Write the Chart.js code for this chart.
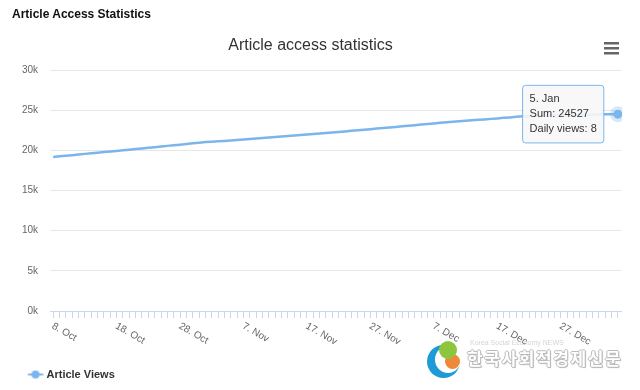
<!DOCTYPE html>
<html>
<head>
<meta charset="utf-8">
<title>Article Access Statistics</title>
<script src="https://cdn.jsdelivr.net/npm/chart.js@4.4.1/dist/chart.umd.min.js"></script>
<style>
    body { margin: 0; background: #fff; font-family: "Liberation Sans", Arial, sans-serif; }
    #wrap { position: relative; width: 640px; height: 390px; }
    #pageTitle { position: absolute; left: 12px; top: 7px; font-size: 12px; font-weight: bold; color: #111; }
    .wm { position: absolute; }
    .lg-b { left: 427px; top: 345px; width: 33px; height: 33px; border-radius: 50%; background: #1e9ad6; }
    .lg-w { left: 435px; top: 346px; width: 26px; height: 27px; border-radius: 50%; background: #fff; }
    .lg-o { left: 445px; top: 354px; width: 15px; height: 15px; border-radius: 50%; background: #f0883a; }
    .lg-g { left: 439px; top: 341px; width: 18px; height: 18px; border-radius: 50%; background: #8cc63f; }
    .wm-sub { left: 470px; top: 339px; font-size: 7px; color: rgba(170,170,170,0.5); }
    .wm-t { left: 467px; top: 345px; font-family: "Noto Sans CJK KR", sans-serif; font-weight: bold; font-size: 17px;
            color: #fff; letter-spacing: 1.6px;
            text-shadow: 1px 0 0 #bbb, -1px 0 0 #bbb, 0 1px 0 #bbb, 0 -1px 0 #bbb, 1px 1px 1px #aaa; }
</style>
</head>
<body>
<div id="wrap">
    <canvas id="accessChart"></canvas>
    <div id="pageTitle">Article Access Statistics</div>
    <div class="wm lg-b"></div>
    <div class="wm lg-w"></div>
    <div class="wm lg-o"></div>
    <div class="wm lg-g"></div>
    <div class="wm wm-sub">Korea Social Economy NEWS</div>
    <div class="wm wm-t">한국사회적경제신문</div>
</div>
<script>
const dates = [
    '8. Oct', '9. Oct', '10. Oct', '11. Oct', '12. Oct', '13. Oct', '14. Oct', '15. Oct', '16. Oct', '17. Oct',
    '18. Oct', '19. Oct', '20. Oct', '21. Oct', '22. Oct', '23. Oct', '24. Oct', '25. Oct', '26. Oct', '27. Oct',
    '28. Oct', '29. Oct', '30. Oct', '31. Oct',
    '1. Nov', '2. Nov', '3. Nov', '4. Nov', '5. Nov', '6. Nov', '7. Nov', '8. Nov', '9. Nov', '10. Nov',
    '11. Nov', '12. Nov', '13. Nov', '14. Nov', '15. Nov', '16. Nov', '17. Nov', '18. Nov', '19. Nov', '20. Nov',
    '21. Nov', '22. Nov', '23. Nov', '24. Nov', '25. Nov', '26. Nov', '27. Nov', '28. Nov', '29. Nov', '30. Nov',
    '1. Dec', '2. Dec', '3. Dec', '4. Dec', '5. Dec', '6. Dec', '7. Dec', '8. Dec', '9. Dec', '10. Dec',
    '11. Dec', '12. Dec', '13. Dec', '14. Dec', '15. Dec', '16. Dec', '17. Dec', '18. Dec', '19. Dec', '20. Dec',
    '21. Dec', '22. Dec', '23. Dec', '24. Dec', '25. Dec', '26. Dec', '27. Dec', '28. Dec', '29. Dec', '30. Dec',
    '31. Dec', '1. Jan', '2. Jan', '3. Jan', '4. Jan', '5. Jan'
];

// cumulative views ("Sum")
const sums = [
    19190, 19268, 19349, 19419, 19504, 19576, 19652, 19725,
    19799, 19868, 19948, 20025, 20091, 20170, 20254, 20326,
    20408, 20484, 20572, 20651, 20725, 20810, 20891, 20968, 21045,
    21097, 21145, 21190, 21248, 21299, 21355,
    21416, 21482, 21541, 21611, 21675, 21733, 21800, 21862,
    21927, 21987, 22055, 22112, 22178, 22240, 22309, 22370,
    22442, 22508, 22583, 22651, 22722, 22786, 22859, 22927,
    23003, 23073, 23152, 23224, 23292, 23369, 23443, 23515,
    23578, 23636, 23697, 23754, 23814, 23870,
    23936, 23996, 24061, 24119, 24187, 24250,
    24278, 24303, 24322, 24331, 24345, 24372, 24401, 24425,
    24446, 24459, 24466, 24483, 24505, 24519, 24527
];

const xTickLabels = ['8. Oct', '18. Oct', '28. Oct', '7. Nov', '17. Nov', '27. Nov', '7. Dec', '17. Dec', '27. Dec'];
const yMax = 30000;
const yStep = 5000;

const lineColor = '#7cb5ec';
Chart.defaults.font.family = '"Liberation Sans", Arial, sans-serif';

// legend symbol: short line with a dot, like the original
const legendIcon = document.createElement('canvas');
legendIcon.width = 36;
legendIcon.height = 12;
const lc = legendIcon.getContext('2d');
lc.strokeStyle = lineColor;
lc.lineWidth = 2;
lc.beginPath();
lc.moveTo(20.5, 6);
lc.lineTo(35.5, 6);
lc.stroke();
lc.fillStyle = lineColor;
lc.beginPath();
lc.arc(28, 6, 4, 0, Math.PI * 2);
lc.fill();

// rotated x labels + menu icon
const extras = {
    id: 'extras',
    afterDraw(chart) {
        const ctx = chart.ctx;
        const x = chart.scales.x;
        ctx.save();
        ctx.font = '10px "Liberation Sans", Arial, sans-serif';
        ctx.fillStyle = '#666';
        ctx.textAlign = 'left';
        ctx.textBaseline = 'top';
        xTickLabels.forEach(label => {
            const px = x.getPixelForValue(dates.indexOf(label));
            ctx.save();
            ctx.translate(px + 2, x.top + 10);
            ctx.rotate(Math.PI / 6);
            ctx.fillText(label, 0, 0);
            ctx.restore();
        });
        ctx.fillStyle = '#666';
        [43, 48, 53].forEach(y => ctx.fillRect(604, y - 1, 15, 2.5));
        ctx.restore();
    }
};

const chart = new Chart(document.getElementById('accessChart'), {
    type: 'line',
    data: {
        labels: dates,
        datasets: [{
            label: 'Article Views',
            data: sums,
            borderColor: lineColor,
            backgroundColor: lineColor,
            borderWidth: 2.5,
            pointRadius: 0,
            pointHoverRadius: 4.5,
            pointHoverBackgroundColor: lineColor,
            pointHoverBorderColor: 'rgba(124,181,236,0.3)',
            pointHoverBorderWidth: 7,
            tension: 0,
            fill: false
        }]
    },
    options: {
        responsive: true,
        maintainAspectRatio: false,
        animation: false,
        layout: { padding: { right: 19 } },
        events: [],
        plugins: {
            title: {
                display: true,
                text: 'Article access statistics',
                color: '#333',
                font: { size: 16, weight: 'normal' },
                padding: { top: 36, bottom: 15 }
            },
            legend: {
                position: 'bottom',
                align: 'start',
                labels: {
                    usePointStyle: true,
                    pointStyle: legendIcon,
                    pointStyleWidth: 31,
                    color: '#333',
                    font: { size: 11, weight: 'bold' },
                    padding: 10
                }
            },
            tooltip: {
                backgroundColor: 'rgba(247,247,247,0.9)',
                borderColor: lineColor,
                borderWidth: 1,
                cornerRadius: 3,
                titleColor: '#333',
                bodyColor: '#333',
                titleFont: { size: 11, weight: 'normal', lineHeight: 1.2 },
                bodyFont: { size: 11, lineHeight: 1.2 },
                titleMarginBottom: 2,
                bodySpacing: 2,
                padding: 7,
                caretSize: 0,
                caretPadding: 14,
                displayColors: false,
                xAlign: 'right',
                yAlign: 'center',
                callbacks: {
                    label: item => {
                        const i = item.dataIndex;
                        const daily = i > 0 ? sums[i] - sums[i - 1] : 0;
                        return ['Sum: ' + sums[i], 'Daily views: ' + daily];
                    }
                }
            }
        },
        scales: {
            x: {
                offset: true,
                grid: {
                    offset: false,
                    drawOnChartArea: false,
                    drawTicks: true,
                    tickLength: 7,
                    tickColor: '#ccd6eb'
                },
                border: { color: '#ccd6eb' },
                ticks: { display: false },
                afterFit: scale => { scale.height = 48; }
            },
            y: {
                min: 0,
                max: yMax,
                grid: { color: '#e6e6e6', drawTicks: false },
                border: { display: false },
                ticks: {
                    stepSize: yStep,
                    padding: 12,
                    color: '#666',
                    font: { size: 10 },
                    callback: v => (v / 1000) + 'k'
                },
                afterFit: scale => { scale.width = 50; }
            }
        }
    },
    plugins: [extras]
});

const last = sums.length - 1;
const pt = chart.getDatasetMeta(0).data[last];
chart.setActiveElements([{ datasetIndex: 0, index: last }]);
chart.tooltip.setActiveElements([{ datasetIndex: 0, index: last }], { x: pt.x, y: pt.y });
chart.update();
</script>
</body>
</html>
